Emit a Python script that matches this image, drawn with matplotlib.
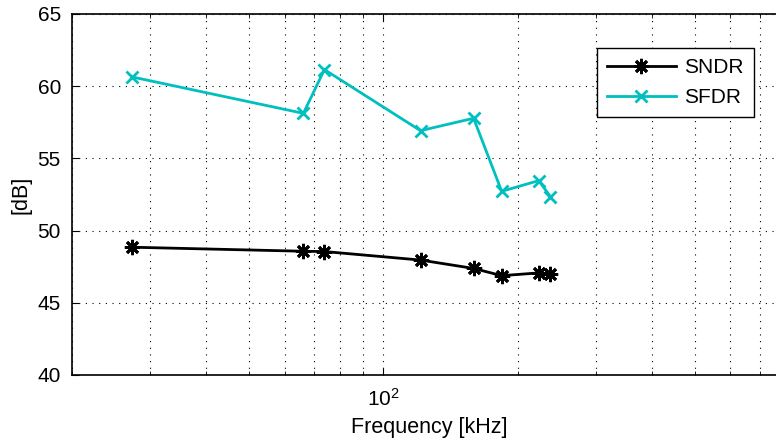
import matplotlib
matplotlib.use('Agg')
import matplotlib.pyplot as plt
from matplotlib.ticker import FixedLocator, LogLocator, NullFormatter, MultipleLocator

plt.rcParams['font.family'] = ['Liberation Sans', 'DejaVu Sans']
plt.rcParams['mathtext.fontset'] = 'custom'
plt.rcParams['mathtext.rm'] = 'Liberation Sans'
plt.rcParams['mathtext.default'] = 'regular'

# 数据 (频率 kHz, dB)
freq = [27.2, 66.1, 73.7, 121.1, 159.3, 184.2, 223.0, 237.0]
sndr = [48.85, 48.57, 48.55, 47.96, 47.38, 46.88, 47.07, 46.98]
sfdr = [60.65, 58.12, 61.15, 56.92, 57.78, 52.72, 53.46, 52.35]

cyan = '#00BFBF'
asterisk = (8, 2, 0)

fig = plt.figure(figsize=(7.76, 4.43), dpi=100)
ax = fig.add_axes([0.0928, 0.1535, 1 - 0.0928, 0.8149])

ax.semilogx(freq, sndr, color='k', lw=2, marker=asterisk, ms=11, mew=2, label='SNDR')
ax.semilogx(freq, sfdr, color=cyan, lw=2, marker='x', ms=9, mew=2, label='SFDR')

ax.set_xlim(20, 760)
ax.set_ylim(40, 65)
ax.yaxis.set_major_locator(MultipleLocator(5))
ax.xaxis.set_major_locator(FixedLocator([100]))
ax.xaxis.set_minor_locator(LogLocator(base=10, subs=range(2, 10)))
ax.xaxis.set_minor_formatter(NullFormatter())

ax.grid(True, which='major', ls=(0, (1, 5)), color='k', lw=0.8)
ax.grid(True, which='minor', axis='x', ls=(0, (1, 5)), color='k', lw=0.8)
ax.tick_params(which='both', direction='in', labelsize=15, top=True, right=False)
ax.tick_params(which='major', length=5)
ax.tick_params(which='minor', length=3)
ax.tick_params(axis='x', pad=9)
ax.tick_params(axis='y', pad=8)
for s in ax.spines.values():
    s.set_linewidth(1.2)
ax.spines['right'].set_visible(False)

ax.set_xlabel('Frequency [kHz]', fontsize=15.5, va='center')
ax.xaxis.set_label_coords((429 - 72) / 704, -(428 - 375) / 361)
ax.set_ylabel('[dB]', fontsize=15.5, va='center')
ax.yaxis.set_label_coords(-(72 - 21) / 704, 0.5)

leg = ax.legend(loc='upper right', bbox_to_anchor=(754 / 776, 1 - 48 / 443),
                bbox_transform=fig.transFigure, borderaxespad=0, fontsize=15,
                fancybox=False, edgecolor='k', framealpha=1,
                handlelength=3.3, handletextpad=0.4, borderpad=0.5, labelspacing=0.5)
leg.get_frame().set_linewidth(1.0)

fig.savefig('out.png', dpi=100)
